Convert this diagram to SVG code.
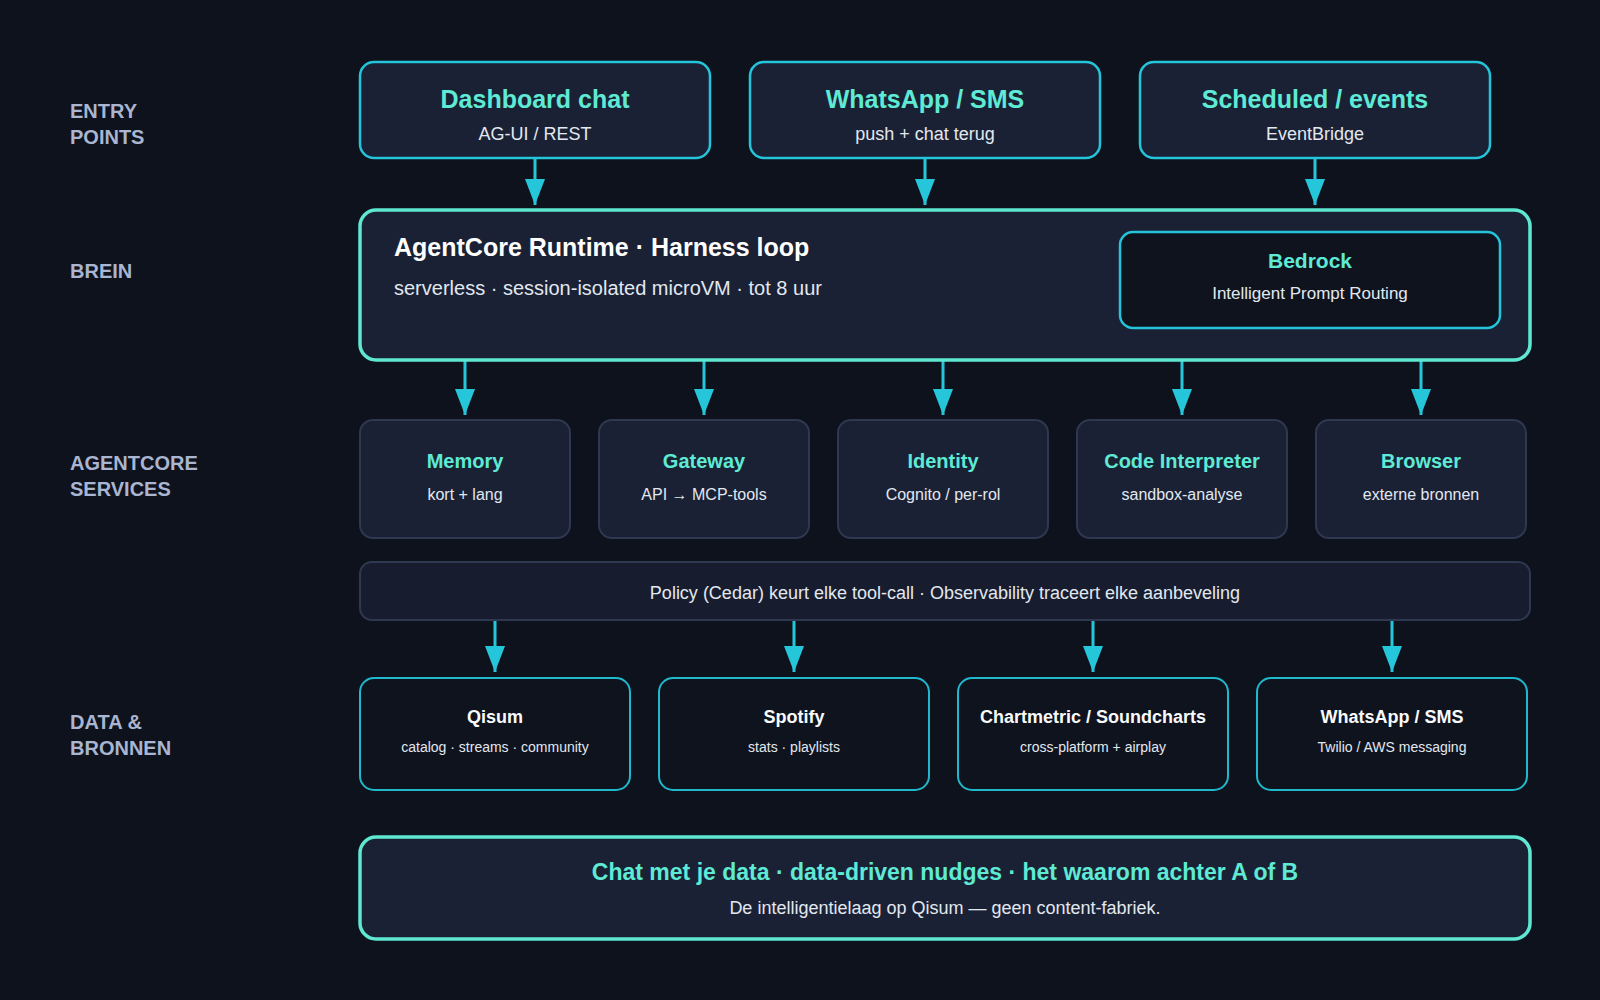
<svg xmlns="http://www.w3.org/2000/svg" width="1600" height="1000" viewBox="0 0 1600 1000">
<style>
text{font-family:"Liberation Sans",Arial,sans-serif}
.lbl{font-size:20px;font-weight:bold;fill:#a9b5d1}
.card{fill:#1a2135;stroke:#24c4da;stroke-width:2.5}
.brain{fill:#1a2135;stroke:#5ee8d2;stroke-width:3.5}
.svc{fill:#1a2135;stroke:#2e3850;stroke-width:2}
.dat{fill:#0f131e;stroke:#1fb8cc;stroke-width:2}
.t1{font-size:25px;font-weight:bold;fill:#5eead4;text-anchor:middle}
.s1{font-size:18px;fill:#e2e8f0;text-anchor:middle}
.t2{font-size:20px;font-weight:bold;fill:#5eead4;text-anchor:middle}
.s2{font-size:16px;fill:#e2e8f0;text-anchor:middle}
.t3{font-size:18px;font-weight:bold;fill:#f8fafc;text-anchor:middle}
.s3{font-size:14px;fill:#e2e8f0;text-anchor:middle}
.arr{stroke:#26c6da;stroke-width:3;fill:none;marker-end:url(#ah)}
</style>
<defs>
<marker id="ah" markerUnits="userSpaceOnUse" markerWidth="28" markerHeight="22" viewBox="0 -11 27 22" refX="26" refY="0" orient="auto">
<path d="M0,-10 L26,0 L0,10 z" fill="#26c6da"/>
</marker>
</defs>
<rect width="1600" height="1000" fill="#0e121c"/>
<g id="labels">
<text class="lbl" x="70" y="118">ENTRY</text>
<text class="lbl" x="70" y="144">POINTS</text>
<text class="lbl" x="70" y="278">BREIN</text>
<text class="lbl" x="70" y="470">AGENTCORE</text>
<text class="lbl" x="70" y="496">SERVICES</text>
<text class="lbl" x="70" y="729">DATA &amp;</text>
<text class="lbl" x="70" y="755">BRONNEN</text>
</g>
<g id="connectors">
<line class="arr" x1="535" y1="158" x2="535" y2="205"/>
<line class="arr" x1="925" y1="158" x2="925" y2="205"/>
<line class="arr" x1="1315" y1="158" x2="1315" y2="205"/>
<line class="arr" x1="465" y1="361" x2="465" y2="415"/>
<line class="arr" x1="704" y1="361" x2="704" y2="415"/>
<line class="arr" x1="943" y1="361" x2="943" y2="415"/>
<line class="arr" x1="1182" y1="361" x2="1182" y2="415"/>
<line class="arr" x1="1421" y1="361" x2="1421" y2="415"/>
<line class="arr" x1="495" y1="620" x2="495" y2="672"/>
<line class="arr" x1="794" y1="620" x2="794" y2="672"/>
<line class="arr" x1="1093" y1="620" x2="1093" y2="672"/>
<line class="arr" x1="1392" y1="620" x2="1392" y2="672"/>
</g>
<g id="entry-dashboard">
<rect class="card" x="360" y="62" width="350" height="96" rx="14"/>
<text class="t1" x="535" y="108">Dashboard chat</text>
<text class="s1" x="535" y="140">AG-UI / REST</text>
</g>
<g id="entry-whatsapp">
<rect class="card" x="750" y="62" width="350" height="96" rx="14"/>
<text class="t1" x="925" y="108">WhatsApp / SMS</text>
<text class="s1" x="925" y="140">push + chat terug</text>
</g>
<g id="entry-scheduled">
<rect class="card" x="1140" y="62" width="350" height="96" rx="14"/>
<text class="t1" x="1315" y="108">Scheduled / events</text>
<text class="s1" x="1315" y="140">EventBridge</text>
</g>
<g id="brein">
<rect class="brain" x="360" y="210" width="1170" height="150" rx="16"/>
<text x="394" y="256" font-size="25" font-weight="bold" fill="#ffffff">AgentCore Runtime · Harness loop</text>
<text x="394" y="295" font-size="20" fill="#e2e8f0">serverless · session-isolated microVM · tot 8 uur</text>
</g>
<g id="bedrock">
<rect x="1120" y="232" width="380" height="96" rx="13" fill="#0f131e" stroke="#24c4da" stroke-width="2.5"/>
<text class="t2" x="1310" y="268" style="font-size:21px">Bedrock</text>
<text class="s1" x="1310" y="299" style="font-size:17px">Intelligent Prompt Routing</text>
</g>
<g id="svc-memory">
<rect class="svc" x="360" y="420" width="210" height="118" rx="13"/>
<text class="t2" x="465" y="468">Memory</text>
<text class="s2" x="465" y="500">kort + lang</text>
</g>
<g id="svc-gateway">
<rect class="svc" x="599" y="420" width="210" height="118" rx="13"/>
<text class="t2" x="704" y="468">Gateway</text>
<text class="s2" x="704" y="500">API → MCP-tools</text>
</g>
<g id="svc-identity">
<rect class="svc" x="838" y="420" width="210" height="118" rx="13"/>
<text class="t2" x="943" y="468">Identity</text>
<text class="s2" x="943" y="500">Cognito / per-rol</text>
</g>
<g id="svc-code">
<rect class="svc" x="1077" y="420" width="210" height="118" rx="13"/>
<text class="t2" x="1182" y="468">Code Interpreter</text>
<text class="s2" x="1182" y="500">sandbox-analyse</text>
</g>
<g id="svc-browser">
<rect class="svc" x="1316" y="420" width="210" height="118" rx="13"/>
<text class="t2" x="1421" y="468">Browser</text>
<text class="s2" x="1421" y="500">externe bronnen</text>
</g>
<g id="policy">
<rect x="360" y="562" width="1170" height="58" rx="12" fill="#171d2e" stroke="#2e3850" stroke-width="2"/>
<text class="s1" x="945" y="599">Policy (Cedar) keurt elke tool-call · Observability traceert elke aanbeveling</text>
</g>
<g id="data-qisum">
<rect class="dat" x="360" y="678" width="270" height="112" rx="14"/>
<text class="t3" x="495" y="723">Qisum</text>
<text class="s3" x="495" y="752">catalog · streams · community</text>
</g>
<g id="data-spotify">
<rect class="dat" x="659" y="678" width="270" height="112" rx="14"/>
<text class="t3" x="794" y="723">Spotify</text>
<text class="s3" x="794" y="752">stats · playlists</text>
</g>
<g id="data-chartmetric">
<rect class="dat" x="958" y="678" width="270" height="112" rx="14"/>
<text class="t3" x="1093" y="723">Chartmetric / Soundcharts</text>
<text class="s3" x="1093" y="752">cross-platform + airplay</text>
</g>
<g id="data-whatsapp">
<rect class="dat" x="1257" y="678" width="270" height="112" rx="14"/>
<text class="t3" x="1392" y="723">WhatsApp / SMS</text>
<text class="s3" x="1392" y="752">Twilio / AWS messaging</text>
</g>
<g id="outcome">
<rect class="brain" x="360" y="837" width="1170" height="102" rx="16"/>
<text x="945" y="880" font-size="23" font-weight="bold" fill="#5eead4" text-anchor="middle">Chat met je data · data-driven nudges · het waarom achter A of B</text>
<text class="s1" x="945" y="914">De intelligentielaag op Qisum — geen content-fabriek.</text>
</g>
</svg>
